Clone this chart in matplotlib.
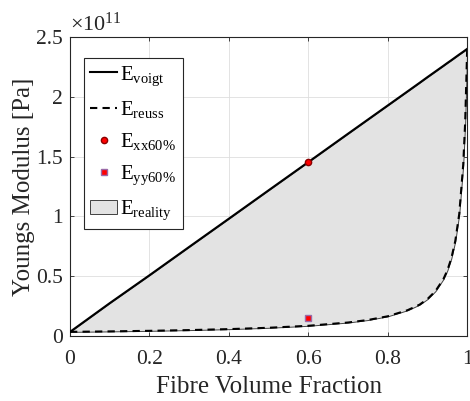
import numpy as np
import matplotlib
matplotlib.use('Agg')
import matplotlib.pyplot as plt
from matplotlib.ticker import FuncFormatter

plt.rcParams['font.family'] = 'Liberation Serif'
plt.rcParams['mathtext.fontset'] = 'custom'
plt.rcParams['mathtext.rm'] = 'Liberation Serif'
plt.rcParams['mathtext.it'] = 'Liberation Serif:italic'

# fibre volume fraction and bounds [Pa]
vf = [0.0, 0.1, 0.2, 0.3, 0.4, 0.5, 0.6, 0.7, 0.75, 0.8, 0.85, 0.88, 0.9, 0.92,
      0.94, 0.95, 0.96, 0.97, 0.98, 0.99, 0.995, 1.0]
e_reuss = [3.5e9, 3.88e9, 4.36e9, 4.97e9, 5.78e9, 6.90e9, 8.56e9, 1.13e10, 1.34e10,
           1.65e10, 2.16e10, 2.62e10, 3.09e10, 3.75e10, 4.75e10, 5.48e10, 6.48e10,
           7.93e10, 1.02e11, 1.43e11, 1.79e11, 2.4e11]
e_voigt = [3.5e9, 2.75e10, 5.08e10, 7.45e10, 9.81e10, 1.218e11, 1.454e11, 1.691e11,
           1.809e11, 1.927e11, 2.045e11, 2.116e11, 2.164e11, 2.211e11, 2.258e11,
           2.282e11, 2.305e11, 2.329e11, 2.353e11, 2.376e11, 2.388e11, 2.4e11]
vf_test = 0.6
e_xx60 = 1.454e11
e_yy60 = 1.5e10

fig = plt.figure(figsize=(4.7, 4.01), dpi=100)
ax = fig.add_axes([0.149, 0.162, 0.845, 0.746])

ax.fill_between(vf, e_reuss, e_voigt, facecolor='#e3e3e3', edgecolor='0.25',
                linewidth=0.7, label=r'E$_{\mathrm{reality}}$', zorder=1)
l1, = ax.plot(vf, e_voigt, color='black', lw=1.5, label=r'E$_{\mathrm{voigt}}$', zorder=3)
l2, = ax.plot(vf, e_reuss, color='black', lw=1.5, ls=(0, (3.5, 2.5)),
              label=r'E$_{\mathrm{reuss}}$', zorder=3)
p1, = ax.plot([vf_test], [e_xx60], 'o', color='red', mec='#8b0000', ms=4.5,
              label=r'E$_{\mathrm{xx60\%}}$', zorder=4)
p2, = ax.plot([vf_test], [e_yy60], 's', color='red', mec='#9a6aa8', ms=4,
              label=r'E$_{\mathrm{yy60\%}}$', zorder=4)

ax.set_xlim(0, 1)
ax.set_ylim(0, 2.5e11)
ax.set_xticks([0, 0.2, 0.4, 0.6, 0.8, 1])
ax.set_yticks([0, 0.5e11, 1e11, 1.5e11, 2e11, 2.5e11])
ax.xaxis.set_major_formatter(FuncFormatter(lambda v, p: '%g' % v))
ax.yaxis.set_major_formatter(FuncFormatter(lambda v, p: '%g' % (v / 1e11)))
ax.tick_params(direction='in', length=3, width=0.6, labelsize=15.5, colors='0.15',
               top=True, right=True)
ax.tick_params(axis='x', pad=10)
ax.tick_params(axis='y', pad=5)
for s in ax.spines.values():
    s.set_color('0.15')
    s.set_linewidth(0.8)
ax.grid(True, color='0.87', linewidth=0.6)
ax.set_axisbelow(True)

ax.set_xlabel('Fibre Volume Fraction', fontsize=18, color='0.15', labelpad=5)
ax.set_ylabel('Youngs Modulus [Pa]', fontsize=18, color='0.15', labelpad=1)
ax.text(0.0, 1.005, r'$\times10^{11}$', transform=ax.transAxes, fontsize=16,
        color='0.15', ha='left', va='bottom')

handles, labels = ax.get_legend_handles_labels()
order = [1, 2, 3, 4, 0]
leg = ax.legend([handles[i] for i in order], [labels[i] for i in order],
                loc='upper left', bbox_to_anchor=(0.035, 0.93), fontsize=15,
                fancybox=False, edgecolor='0.15', framealpha=1,
                handlelength=1.3, handletextpad=0.15, labelspacing=0.55,
                borderpad=0.3, borderaxespad=0)
leg.get_frame().set_linewidth(0.8)

fig.savefig('out.png', dpi=100)
